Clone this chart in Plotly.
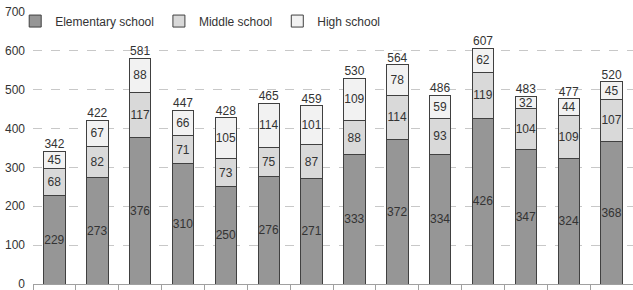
import plotly.graph_objects as go

categories = list(range(14))
elementary = [229, 273, 376, 310, 250, 276, 271, 333, 372, 334, 426, 347, 324, 368]
middle = [68, 82, 117, 71, 73, 75, 87, 88, 114, 93, 119, 104, 109, 107]
high = [45, 67, 88, 66, 105, 114, 101, 109, 78, 59, 62, 32, 44, 45]
totals = [342, 422, 581, 447, 428, 465, 459, 530, 564, 486, 607, 483, 477, 520]
y_ticks = [0, 100, 200, 300, 400, 500, 600, 700]

font_family = "Liberation Sans, Arial, sans-serif"
fig = go.Figure()
for name, vals, col in [("Elementary school", elementary, "#969696"),
                        ("Middle school", middle, "#d9d9d9"),
                        ("High school", high, "#f2f2f2")]:
    fig.add_trace(go.Bar(
        x=categories, y=vals, name=name,
        marker=dict(color=col, line=dict(color="#404040", width=1)),
        text=[str(v) for v in vals], textposition="inside",
        insidetextanchor="middle", textangle=0, constraintext="none",
        textfont=dict(size=12, color="#333333", family=font_family),
        width=0.5,
    ))

fig.add_trace(go.Scatter(
    x=categories, y=totals, mode="text", text=[str(t) for t in totals],
    textposition="top center", showlegend=False,
    textfont=dict(size=12, color="#333333", family=font_family),
    cliponaxis=False,
))

fig.update_layout(
    barmode="stack",
    width=633, height=290,
    margin=dict(l=33, r=0, t=12, b=6, autoexpand=False),
    plot_bgcolor="white", paper_bgcolor="white",
    font=dict(family=font_family, size=12, color="#333333"),
    legend=dict(orientation="h", xref="container", x=0.024, yref="paper", y=1.02,
                xanchor="left", yanchor="top",
                font=dict(size=12, color="#333333"), bgcolor="rgba(0,0,0,0)",
                itemwidth=30, traceorder="normal", tracegroupgap=0),
    xaxis=dict(range=[-0.5, 13.5], tickvals=[i - 0.5 for i in range(15)],
               ticktext=[""] * 15, showgrid=False, ticks="outside", ticklen=5,
               tickcolor="#a0a0a0", showline=True, linecolor="#a0a0a0",
               linewidth=1, zeroline=False, automargin=False),
    yaxis=dict(range=[0, 700], tickvals=y_ticks, showgrid=True,
               gridcolor="#c8c8c8", griddash="dash", zeroline=False,
               showline=False, ticks="", automargin=False,
               ticklabeloverflow="allow", ticklabelstandoff=7,
               tickfont=dict(size=12, color="#333333")),
    showlegend=True,
)

# Remove the default 8px page margin so the figure fills the window exactly.
fig.write_html("out.html", config={"displayModeBar": False},
               post_script="document.body.style.margin='0px';")
